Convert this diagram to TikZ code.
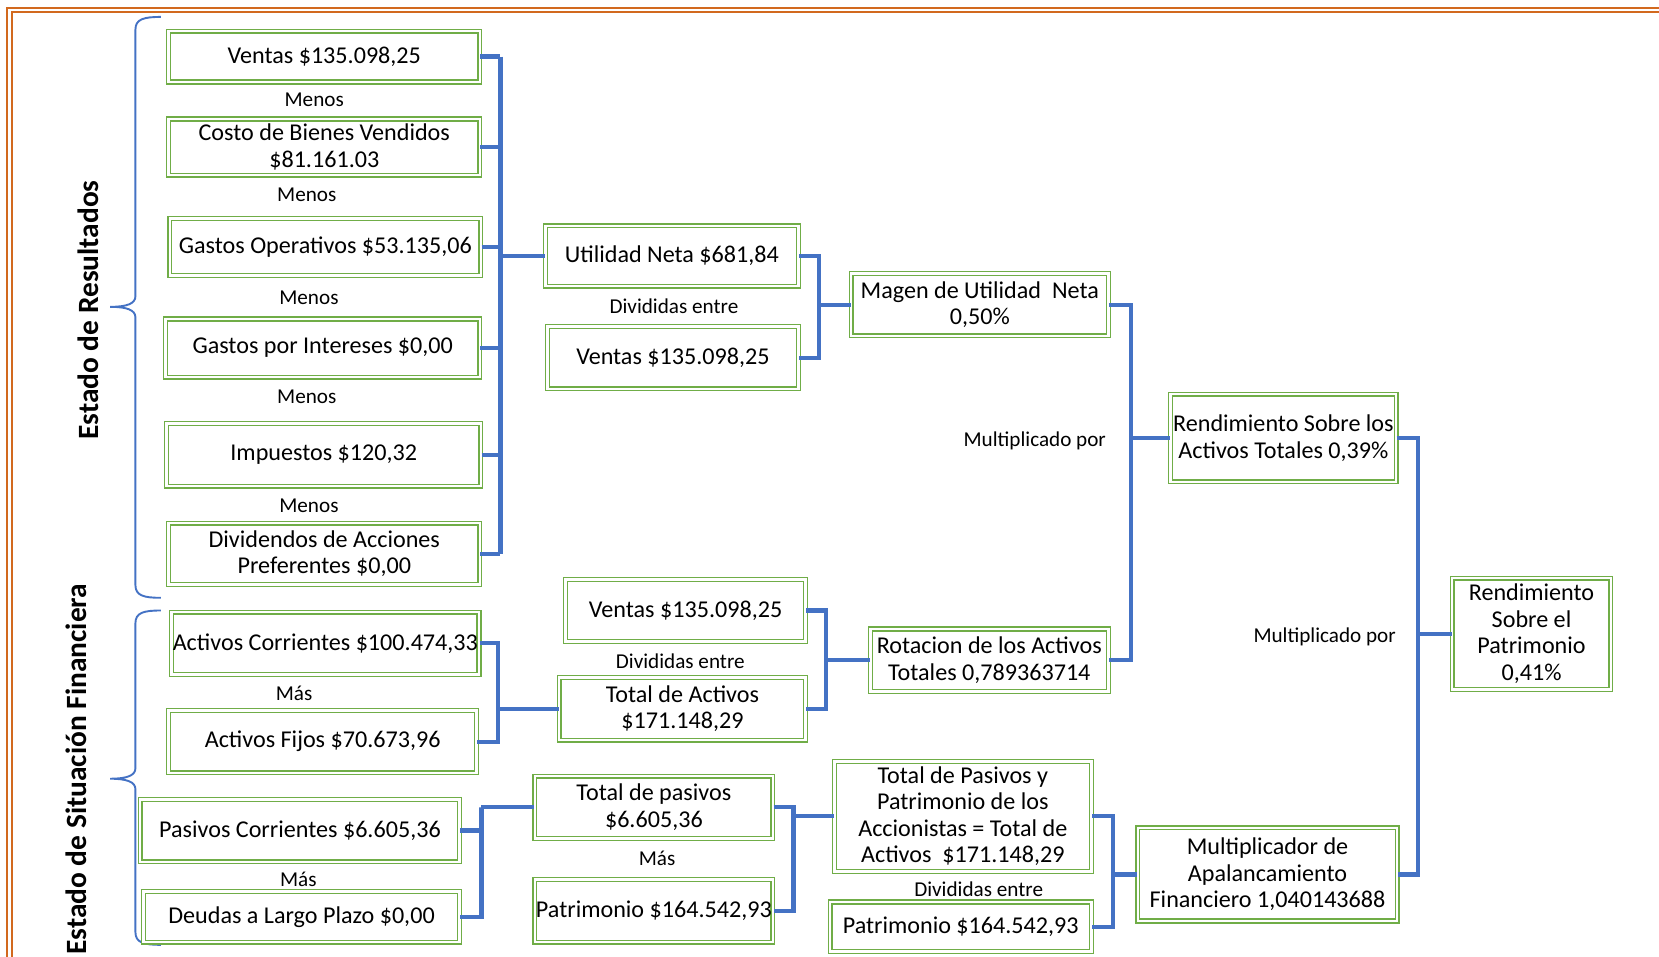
\documentclass[tikz,border=0pt]{standalone}
\usepackage{fontspec}
\setmainfont{Carlito}
\definecolor{boxgreen}{HTML}{70AD47}
\definecolor{connblue}{HTML}{4472C4}
\definecolor{frameorange}{HTML}{D2691E}
\newcommand\fsbox{\fontsize{11.4}{12.5}\selectfont}
\newcommand\fslbl{\fontsize{10}{12}\selectfont}
\newcommand\fstitle{\fontsize{13.9}{16}\selectfont\bfseries}
\tikzset{
  box/.style={draw=boxgreen, double=white, line width=0.6pt, double distance=1.2pt,
              inner sep=0.5pt, align=center, font=\fsbox},
  conn/.style={draw=connblue, line width=2pt},
  bracestyle/.style={draw=connblue, line width=0.9pt},
  lbl/.style={font=\fslbl, inner sep=0pt},
  titlelbl/.style={font=\fstitle, inner sep=0pt, rotate=90},
}
\newcommand\bx[6]{\node[box, minimum width={(#4-#2-5)*0.5pt}, minimum height={(#5-#3-5)*0.5pt}] (#1) at ({(#2+#4)/2},{(#3+#5)/2}) {#6};}
\begin{document}
\begin{tikzpicture}[x=0.5pt,y=-0.5pt]
\useasboundingbox (0,0) rectangle (1568,904);
\begin{scope}
\clip (0,0) rectangle (1568,904);
\draw[draw=frameorange, double=white, line width=0.8pt, double distance=1.3pt] (9,9.5) rectangle (1620,1000);
\end{scope}

% braces
\draw[bracestyle] (152,16) .. controls (136,16) and (128,18) .. (128,28) -- (128,280)
   .. controls (128,287) and (120,290) .. (104,290)
   .. controls (120,290) and (128,293) .. (128,300) -- (128,553)
   .. controls (128,563) and (136,565) .. (152,565);
\draw[bracestyle] (152,577) .. controls (136,577) and (128,579) .. (128,589) -- (128,726)
   .. controls (128,733) and (120,736) .. (104,736)
   .. controls (120,736) and (128,739) .. (128,746) -- (128,881)
   .. controls (128,891) and (136,893) .. (152,893);

\node[titlelbl] (tres) at (83,293) {Estado de Resultados};
\node[titlelbl] (tsf) at (72,727) {Estado de Situación Financiera};

% Estado de resultados
\bx{v1}{157}{27}{456}{80}{Ventas \$135.098,25}
\node[lbl] (m1) at (297,94) {Menos};
\bx{cbv}{157}{110}{456}{168}{Costo de Bienes Vendidos\\\$81.161.03}
\node[lbl] (m2) at (290,184) {Menos};
\bx{gop}{158}{204}{457}{263}{Gastos Operativos \$53.135,06}
\node[lbl] (m3) at (292,281) {Menos};
\bx{gin}{154}{299}{456}{359}{Gastos por Intereses \$0,00}
\node[lbl] (m4) at (290,375) {Menos};
\bx{imp}{155}{398}{457}{462}{Impuestos \$120,32}
\node[lbl] (m5) at (292,478) {Menos};
\bx{divi}{157}{492}{456}{555}{Dividendos de Acciones\\Preferentes \$0,00}

\bx{util}{513}{211}{757}{273}{Utilidad Neta \$681,84}
\node[lbl] (d1) at (637,289) {Divididas entre};
\bx{v2}{515}{306}{757}{370}{Ventas \$135.098,25}
\bx{mun}{802}{256}{1050}{320}{Magen de Utilidad\ \ Neta\\0,50\%}
\node[lbl] (mp1) at (978,417) {Multiplicado por};
\bx{roa}{1104}{370}{1322}{458}{Rendimiento Sobre los\\Activos Totales 0,39\%}
\node[lbl] (mp2) at (1252,602) {Multiplicado por};
\bx{roe}{1370}{544}{1525}{654}{Rendimiento\\Sobre el\\Patrimonio\\0,41\%}

% Estado de situacion financiera
\bx{ac}{160}{576}{455}{640}{Activos Corrientes \$100.474,33}
\node[lbl] (ms1) at (278,655) {Más};
\bx{af}{157}{669}{453}{733}{Activos Fijos \$70.673,96}
\bx{v3}{532}{545}{764}{609}{Ventas \$135.098,25}
\node[lbl] (d2) at (643,625) {Divididas entre};
\bx{ta}{526}{638}{764}{702}{Total de Activos\\\$171.148,29}
\bx{rot}{820}{592}{1050}{656}{Rotacion de los Activos\\Totales 0,789363714}

\bx{pc}{130}{753}{437}{817}{Pasivos Corrientes \$6.605,36}
\node[lbl] (ms2) at (282,831) {Más};
\bx{dlp}{133}{840}{437}{893}{Deudas a Largo Plazo \$0,00}
\bx{tp}{503}{731}{733}{795}{Total de pasivos\\\$6.605,36}
\node[lbl] (ms3) at (621,811) {Más};
\bx{pat1}{503}{829}{733}{893}{Patrimonio \$164.542,93}
\bx{tpp}{786}{717}{1034}{826}{Total de Pasivos y\\Patrimonio de los\\Accionistas = Total de\\Activos\ \ \$171.148,29}
\node[lbl] (d3) at (925,840) {Divididas entre};
\bx{pat2}{782}{850}{1034}{902}{Patrimonio \$164.542,93}
\bx{mult}{1073}{780}{1323}{873}{Multiplicador de\\Apalancamiento\\Financiero 1,040143688}

% junction coordinates
\coordinate (j1) at (473,242);
\coordinate (j2) at (774,288);
\coordinate (j3) at (1069,414);
\coordinate (j4) at (1340,599);
\coordinate (j5) at (471,670);
\coordinate (j6) at (781,624);
\coordinate (j7) at (455,763);
\coordinate (j8) at (750,771.5);
\coordinate (j9) at (1052,826.5);

% connectors
\foreach \n in {v1,cbv,gop,gin,imp,divi}
  \draw[conn] (\n.east) -- (\n.east -| j1);
\draw[conn] (j1 |- v1.east) -- (j1 |- divi.east);
\draw[conn] (j1) -- (j1 -| util.west);

\draw[conn] (util.east) -| (j2) |- (v2.east);
\draw[conn] (j2) -- (j2 -| mun.west);

\draw[conn] (mun.east) -| (j3) |- (rot.east);
\draw[conn] (j3) -- (j3 -| roa.west);

\draw[conn] (roa.east) -| (j4) |- (mult.east);
\draw[conn] (j4) -- (j4 -| roe.west);

\draw[conn] (ac.east) -| (j5) |- (af.east);
\draw[conn] (j5) -- (j5 -| ta.west);

\draw[conn] (v3.east) -| (j6) |- (ta.east);
\draw[conn] (j6) -- (j6 -| rot.west);

\draw[conn] (pc.east) -| (j7) |- (dlp.east);
\draw[conn] (j7) -- (j7 -| tp.west);

\draw[conn] (tp.east) -| (j8) |- (pat1.east);
\draw[conn] (j8) -- (j8 -| tpp.west);

\draw[conn] (tpp.east) -| (j9) |- (pat2.east);
\draw[conn] (j9) -- (j9 -| mult.west);
\end{tikzpicture}
\end{document}
